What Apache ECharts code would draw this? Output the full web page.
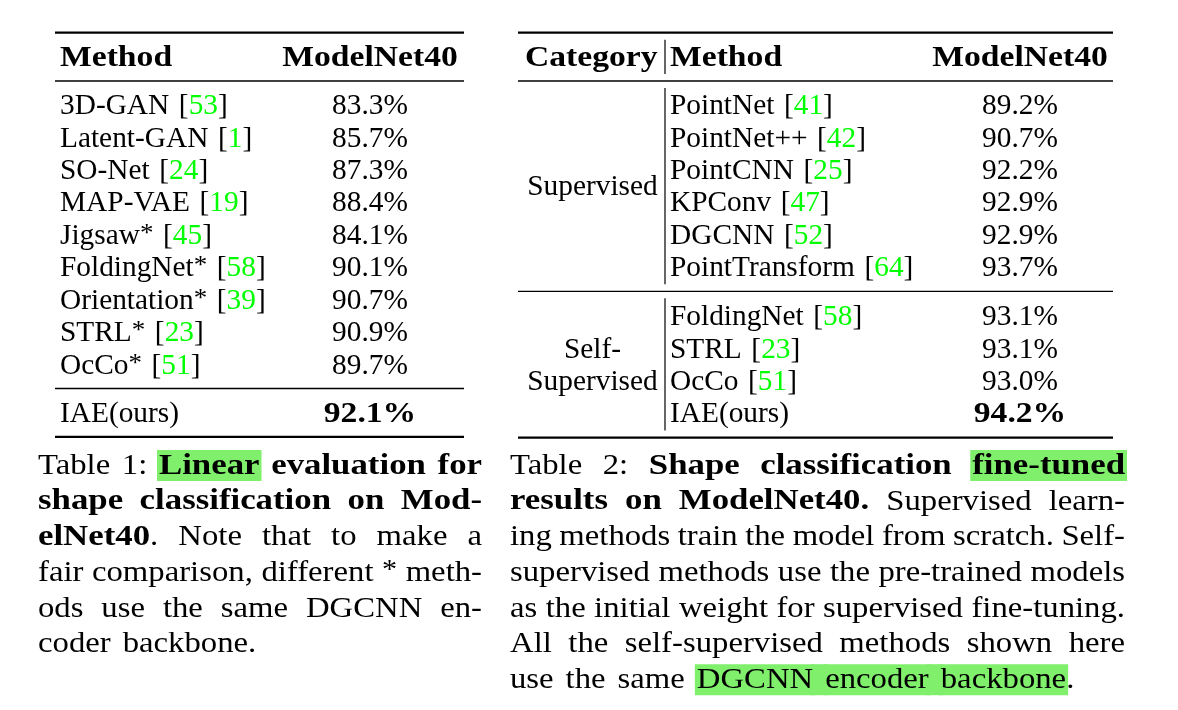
<!DOCTYPE html>
<html><head><meta charset="utf-8">
<script src="https://cdn.jsdelivr.net/npm/echarts@6/dist/echarts.min.js"></script>
<style>html,body{margin:0;padding:0;background:#fff}#c{width:1178px;height:710px}</style>
</head><body><div id="c"></div>
<script>
// ---------- DATA ----------
const t1Header = ['Method', 'ModelNet40'];
const t1Methods = ['3D-GAN', 'Latent-GAN', 'SO-Net', 'MAP-VAE', 'Jigsaw', 'FoldingNet', 'Orientation', 'STRL', 'OcCo'];
const t1Star = [false, false, false, false, true, true, true, true, true];
const t1Refs = ['53', '1', '24', '19', '45', '58', '39', '23', '51'];
const t1Values = [83.3, 85.7, 87.3, 88.4, 84.1, 90.1, 90.7, 90.9, 89.7];
const t1OursName = 'IAE(ours)';
const t1OursValue = 92.1;

const t2Header = ['Category', 'Method', 'ModelNet40'];
const t2SupLabel = ['Supervised'];
const t2SupMethods = ['PointNet', 'PointNet++', 'PointCNN', 'KPConv', 'DGCNN', 'PointTransform'];
const t2SupRefs = ['41', '42', '25', '47', '52', '64'];
const t2SupValues = [89.2, 90.7, 92.2, 92.9, 92.9, 93.7];
const t2SelfLabel = ['Self-', 'Supervised'];
const t2SelfMethods = ['FoldingNet', 'STRL', 'OcCo', 'IAE(ours)'];
const t2SelfRefs = ['58', '23', '51', null];
const t2SelfValues = [93.1, 93.1, 93.0, 94.2];
const t2SelfBest = [false, false, false, true];

const caption1 = [
  'Table 1: {hb|Linear} {b|evaluation for}',
  '{b|shape classification on Mod-}',
  '{b|elNet40}. Note that to make a',
  'fair comparison, different {sup|*} meth-',
  'ods use the same DGCNN en-',
  'coder backbone.'
];
const caption2 = [
  'Table 2: {b|Shape classification} {hb|fine-tuned}',
  '{b|results on ModelNet40.} Supervised learn-',
  'ing methods train the model from scratch. Self-',
  'supervised methods use the pre-trained models',
  'as the initial weight for supervised fine-tuning.',
  'All the self-supervised methods shown here',
  'use the same {h|DGCNN encoder backbone}.'
];

// ---------- STYLE / LAYOUT ----------
const FAMILY = '"Liberation Serif", "Times New Roman", serif';
const TAB = { fs: 28.5, sxN: 1.03, sxB: 1.18, space: 9.6 };
const CAP = { fs: 29.75, sxN: 1.10, sxB: 1.17, space: 12 };
const MID = 0.235;
const REF_COLOR = '#00ff00';
const HL_COLOR = '#80ef6c';
const mctx = document.createElement('canvas').getContext('2d');

const fg = [], bg = [];
const isBold = s => s === 'b' || s === 'hb';
const isHl = s => s === 'h' || s === 'hb';
const sizeOf = (s, k) => s === 'sup' ? k.fs * 0.92 : k.fs;
const fontOf = (s, k) => (isBold(s) ? 'bold ' : '') + sizeOf(s, k) + 'px ' + FAMILY;
const sxOf = (s, k) => isBold(s) ? k.sxB : k.sxN;
function segW(g, k) { mctx.font = fontOf(g[0], k); return mctx.measureText(g[1]).width * sxOf(g[0], k); }

function parse(markup) {
  const re = /\{(\w+)\|([^}]*)\}|([^{]+)/g; const out = []; let m;
  while ((m = re.exec(markup))) { if (m[3] !== undefined) out.push(['n', m[3]]); else out.push([m[1], m[2]]); }
  return out;
}
function toWords(segs) {
  const words = [{ segs: [], gapBefore: null }];
  segs.forEach(([st, text]) => {
    text.split(' ').forEach((part, j) => {
      if (j > 0) words.push({ segs: [], gapBefore: st });
      if (part) words[words.length - 1].segs.push([st, part]);
    });
  });
  return words.filter(w => w.segs.length);
}
function txt(g, x, baseline, k) {
  const st = g[0];
  const raise = st === 'sup' ? 0.1 * k.fs : 0;
  const fill = st === 'ref' ? REF_COLOR : '#000';
  fg.push({
    type: 'text', x: x, y: baseline - MID * sizeOf(st, k) - raise, scaleX: sxOf(st, k), silent: true, z: 10,
    style: { text: g[1], font: fontOf(st, k), fill: fill, align: 'left', verticalAlign: 'middle', textAlign: 'left', textVerticalAlign: 'middle' }
  });
}
function hlRect(x0, x1, baseline) {
  bg.push({ type: 'rect', silent: true, z: 1, shape: { x: x0 - 2, y: baseline - 23, width: x1 - x0 + 4, height: 31 }, style: { fill: HL_COLOR } });
}
function drawLine(markup, x, baseline, opt) {
  opt = opt || {};
  const k = opt.k || TAB;
  const words = toWords(parse(markup));
  const ww = words.map(w => w.segs.reduce((s, g) => s + segW(g, k), 0));
  const sum = ww.reduce((a, b) => a + b, 0);
  let gap = k.space;
  if (opt.justify && words.length > 1) gap = (opt.justify - sum) / (words.length - 1);
  const total = sum + gap * (words.length - 1);
  let cx = opt.align === 'center' ? x - total / 2 : x;
  words.forEach((w, i) => {
    if (i > 0 && isHl(w.gapBefore)) hlRect(cx - gap, cx, baseline);
    let px = cx;
    w.segs.forEach(g => { const gw = segW(g, k); if (isHl(g[0])) hlRect(px, px + gw, baseline); txt(g, px, baseline, k); px += gw; });
    cx = px + gap;
  });
}
function hrule(x0, x1, y, w) {
  fg.push({ type: 'rect', silent: true, z: 5, shape: { x: x0, y: y - w / 2, width: x1 - x0, height: w }, style: { fill: '#000' } });
}
function vrule(x, y0, y1) {
  fg.push({ type: 'rect', silent: true, z: 5, shape: { x: x - 0.6, y: y0, width: 1.2, height: y1 - y0 }, style: { fill: '#000' } });
}
const fmt = v => v.toFixed(1) + '%';
const methodMarkup = (name, ref, star) => name + (star ? '{sup|*}' : '') + (ref ? ' [{ref|' + ref + '}]' : '');

const TOP = 32.7, HEAD_BASE = 65, HEAD_RULE = 81, ROW0 = 113.3, STEP = 32.45;
const THICK = 2.2, THIN = 1.4, GAPV = 7;

// ---------- TABLE 1 ----------
(function () {
  const x0 = 55, x1 = 464, mx = 60, vc = 370;
  hrule(x0, x1, TOP, THICK);
  drawLine('{b|' + t1Header[0] + '}', mx, HEAD_BASE);
  drawLine('{b|' + t1Header[1] + '}', vc, HEAD_BASE, { align: 'center' });
  hrule(x0, x1, HEAD_RULE, THIN);
  t1Methods.forEach((m, i) => {
    const b = ROW0 + i * STEP;
    drawLine(methodMarkup(m, t1Refs[i], t1Star[i]), mx, b);
    drawLine(fmt(t1Values[i]), vc, b, { align: 'center' });
  });
  const mid = ROW0 + (t1Methods.length - 1) * STEP + 15.6;
  hrule(x0, x1, mid, THIN);
  const ob = mid + 32.4;
  drawLine(t1OursName, mx, ob);
  drawLine('{b|' + fmt(t1OursValue) + '}', vc, ob, { align: 'center' });
  hrule(x0, x1, ob + 16, THICK);
})();

// ---------- TABLE 2 ----------
(function () {
  const x0 = 518, x1 = 1113, cx = 525, cc = 592.5, bx = 665, mx = 670, vc = 1020;
  hrule(x0, x1, TOP, THICK);
  drawLine('{b|' + t2Header[0] + '}', cx, HEAD_BASE);
  drawLine('{b|' + t2Header[1] + '}', mx, HEAD_BASE);
  drawLine('{b|' + t2Header[2] + '}', vc, HEAD_BASE, { align: 'center' });
  vrule(bx, TOP + GAPV, HEAD_RULE - GAPV);
  hrule(x0, x1, HEAD_RULE, THIN);
  t2SupMethods.forEach((m, i) => {
    const b = ROW0 + i * STEP;
    drawLine(methodMarkup(m, t2SupRefs[i], false), mx, b);
    drawLine(fmt(t2SupValues[i]), vc, b, { align: 'center' });
  });
  drawLine(t2SupLabel[0], cc, ROW0 + (t2SupMethods.length - 1) / 2 * STEP, { align: 'center' });
  const mid = ROW0 + (t2SupMethods.length - 1) * STEP + 15.8;
  vrule(bx, HEAD_RULE + GAPV, mid - GAPV);
  hrule(x0, x1, mid, THIN);
  const s0 = mid + 33;
  t2SelfMethods.forEach((m, i) => {
    const b = s0 + i * STEP;
    drawLine(methodMarkup(m, t2SelfRefs[i], false), mx, b);
    const v = fmt(t2SelfValues[i]);
    drawLine(t2SelfBest[i] ? '{b|' + v + '}' : v, vc, b, { align: 'center' });
  });
  t2SelfLabel.forEach((l, i) => drawLine(l, cc, s0 + (i + 1) * STEP, { align: 'center' }));
  const bottom = s0 + (t2SelfMethods.length - 1) * STEP + 15.9;
  vrule(bx, mid + GAPV, bottom - GAPV);
  hrule(x0, x1, bottom, THICK);
})();

// ---------- CAPTIONS ----------
const CAP_BASE = 473, CAP_STEP = 35.7;
function caption(lines, x0, x1) {
  lines.forEach((l, i) => {
    const last = i === lines.length - 1;
    drawLine(l, x0, CAP_BASE + i * CAP_STEP, last ? { k: CAP } : { k: CAP, justify: x1 - x0 });
  });
}
caption(caption1, 38, 482);
caption(caption2, 510, 1125);

const chart = echarts.init(document.getElementById('c'), null, { renderer: 'canvas' });
chart.setOption({ backgroundColor: '#ffffff', animation: false, graphic: { elements: bg.concat(fg) } });
</script></body></html>
